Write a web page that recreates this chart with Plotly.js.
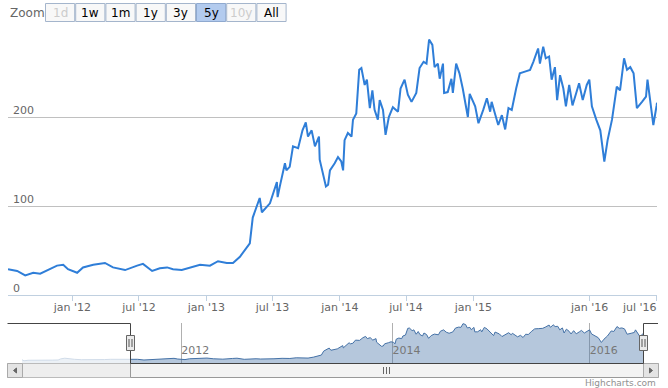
<!DOCTYPE html>
<html>
<head>
<meta charset="utf-8">
<script src="https://cdn.plot.ly/plotly-3.0.1.min.js"></script>
<style>
html,body{margin:0;padding:0;background:#fff;overflow:hidden}
#chart{width:668px;height:388px}
</style>
</head>
<body>
<div id="chart"></div>
<script>
// ---------- data ----------
const dates = [
'2011-07-09','2011-08-03','2011-08-25','2011-09-16','2011-10-05','2011-10-24','2011-11-20','2011-12-07','2011-12-20',
'2012-01-14','2012-01-30','2012-02-27','2012-03-30','2012-04-21','2012-05-24','2012-06-26','2012-07-12','2012-08-06',
'2012-08-27','2012-09-16','2012-10-02','2012-10-26','2012-11-17','2012-12-15',
'2013-01-11','2013-02-02','2013-02-26','2013-03-15','2013-04-03','2013-04-30','2013-05-08','2013-05-27','2013-06-02',
'2013-06-24','2013-07-13','2013-07-15','2013-07-21','2013-08-04','2013-08-08','2013-08-17','2013-08-26','2013-09-09',
'2013-09-21','2013-09-30','2013-10-06','2013-10-16','2013-10-25','2013-11-05','2013-11-07','2013-11-16','2013-11-24',
'2013-11-30','2013-12-05','2013-12-18','2013-12-27',
'2014-01-05','2014-01-10','2014-01-14','2014-01-23','2014-02-02','2014-02-06','2014-02-15','2014-02-23','2014-03-01',
'2014-03-10','2014-03-16','2014-03-24','2014-03-31','2014-04-06','2014-04-15','2014-04-20','2014-04-29','2014-05-06',
'2014-05-15','2014-05-26','2014-06-09','2014-06-16','2014-06-27','2014-07-06','2014-07-16','2014-07-29','2014-08-07',
'2014-08-18','2014-08-26','2014-09-02','2014-09-11','2014-09-17','2014-09-26','2014-10-01','2014-10-10','2014-10-13',
'2014-10-23','2014-11-02','2014-11-06','2014-11-15','2014-11-24','2014-12-03','2014-12-17','2014-12-22',
'2015-01-06','2015-01-15','2015-01-28','2015-02-07','2015-02-16','2015-02-20','2015-03-01','2015-03-10','2015-03-20',
'2015-03-29','2015-04-07','2015-04-16','2015-04-28','2015-05-08','2015-05-22','2015-06-05',
'2015-07-31','2015-08-13','2015-08-18','2015-08-27','2015-09-03','2015-09-12','2015-09-19','2015-09-28','2015-10-04',
'2015-10-12','2015-10-21','2015-10-28','2015-11-06','2015-11-15','2015-11-26','2015-12-03','2015-12-13','2015-12-24',
'2015-12-31',
'2016-01-07','2016-01-19','2016-01-30','2016-02-10','2016-02-19','2016-03-02','2016-03-15','2016-03-24','2016-04-04',
'2016-04-12','2016-04-21','2016-04-30','2016-05-09','2016-05-23','2016-06-03','2016-06-07','2016-06-14','2016-06-23',
'2016-07-02','2016-07-03'
];
const prices = [
29,27,22,25,24,28,33,34,29,
25,31,34,36,31,28,33,35,27,
30,31,29,28,31,34,
33,38,36,36,43,58,87,109,93,
103,127,110,122,148,140,144,167,165,
185,194,178,185,167,178,152,137,122,
124,140,148,155,
150,140,174,182,178,197,204,253,255,
236,242,210,230,208,197,219,208,180,
200,211,206,232,242,225,217,227,255,
262,260,287,281,256,260,243,260,227,
228,243,227,260,249,232,200,226,
212,193,208,221,206,217,204,191,202,
186,210,208,232,249,251,253,
262,277,260,279,266,268,242,256,219,
247,232,212,236,213,228,238,219,236,
242,
212,197,185,150,174,197,234,230,266,
253,256,249,210,217,223,242,217,191,
213,216
];
// earlier history only visible in the navigator (estimated)
const earlyDates = ['2010-06-29','2010-07-06','2010-07-20','2010-08-10','2010-09-01','2010-09-21','2010-10-12','2010-11-01',
'2010-11-10','2010-11-24','2010-12-10','2010-12-28','2011-01-20','2011-02-10','2011-03-01','2011-03-20','2011-04-10',
'2011-05-01','2011-05-20','2011-06-10','2011-06-30'];
const earlyPrices = [24,16,20,19,20,21,21,22,30,35,30,27,24,23,24,24,25,27,27,28,28];

const gapBounds = ['2015-06-10','2015-07-27'];
const viewStart = '2011-07-09', viewEnd = '2016-07-03', navStart = '2010-06-29';
const mainTickVals = ['2012-01-01','2012-07-01','2013-01-01','2013-07-01','2014-01-01','2014-07-01','2015-01-01','2016-01-01','2016-07-01'];
const mainTickText = ["jan '12","jul '12","jan '13","jul '13","jan '14","jul '14","jan '15","jan '16",""];
const lastTickLabel = "jul '16";
const yTickVals = [0,100,200,300];
const yTickText = ['0','100','200',''];
const navTickVals = ['2012-01-01','2014-01-01','2016-01-01'];
const navTickText = ['2012','2014','2016'];
const buttons = ['1d','1w','1m','1y','3y','5y','10y','All'];
const disabledButtons = ['1d','10y'];
const selectedButton = '5y';

// ---------- geometry helpers (figure pixels -> paper fractions) ----------
const W = 668, H = 388;
const px = x => x / W;
const py = y => 1 - y / H;
const FONT = 'DejaVu Sans, Verdana, sans-serif';

const navTrace = {
  x: earlyDates.concat(dates), y: earlyPrices.concat(prices),
  xaxis: 'x2', yaxis: 'y2', type: 'scatter', mode: 'lines',
  line: {color: '#4572A7', width: 1}, fill: 'tozeroy', fillcolor: 'rgba(69,114,167,0.4)',
  hoverinfo: 'skip'
};
const mainTrace = {
  x: dates, y: prices, xaxis: 'x', yaxis: 'y', type: 'scatter', mode: 'lines',
  line: {color: '#2f7ed8', width: 2}, hoverinfo: 'skip'
};

const shapes = [];
const annotations = [];
function rect(x0, y0, x1, y1, fill, line, lw) {
  shapes.push({type: 'rect', xref: 'paper', yref: 'paper', x0: px(x0), x1: px(x1), y0: py(y1), y1: py(y0),
    fillcolor: fill, line: {color: line || 'rgba(0,0,0,0)', width: lw === undefined ? 1 : lw}, layer: 'above'});
}
function path(pts, color, fill, closed) {
  let d = pts.map((p, i) => (i ? 'L ' : 'M ') + px(p[0]) + ',' + py(p[1])).join(' ') + (closed ? ' Z' : '');
  shapes.push({type: 'path', xref: 'paper', yref: 'paper', path: d, fillcolor: fill || 'rgba(0,0,0,0)',
    line: {color: color, width: 1}, layer: 'above'});
}

// navigator mask on unselected part
rect(22, 323, 130, 363, 'rgba(255,255,255,0.75)', null, 0);
// scrollbar
rect(7.5, 363.5, 658.5, 377.5, '#eeeeee', '#bbbbbb', 1);
rect(130.5, 363.5, 643.5, 377.5, '#f3f3f3', '#999999', 1);
[383.5, 386.5, 389.5].forEach(x => path([[x, 367], [x, 374]], '#666666'));
rect(7.5, 363.5, 22.5, 377.5, '#e4e4e4', '#aaaaaa', 1);
rect(643.5, 363.5, 658.5, 377.5, '#e4e4e4', '#aaaaaa', 1);
path([[13.5, 370.5], [16.5, 368], [16.5, 373]], '#666666', '#666666', true);
path([[652.5, 370.5], [649.5, 368], [649.5, 373]], '#666666', '#666666', true);
// navigator outline
path([[7.5, 323.5], [130.5, 323.5], [130.5, 363.5], [643.5, 363.5], [643.5, 323.5], [658, 323.5]], '#444444');
// handles
[130.5, 643.5].forEach(cx => {
  rect(cx - 4, 335.5, cx + 4, 350.5, '#ebebeb', '#666666', 1);
  path([[cx - 1.5, 339], [cx - 1.5, 347]], '#555555');
  path([[cx + 1.5, 339], [cx + 1.5, 347]], '#555555');
});

// range selector
annotations.push({text: 'Zoom', xref: 'paper', yref: 'paper', x: px(8), y: py(13), xanchor: 'left', yanchor: 'middle',
  showarrow: false, font: {family: FONT, size: 12, color: '#666666'}});
buttons.forEach((b, i) => {
  const x0 = 45.5 + i * 30.2, x1 = x0 + 29.2;
  const sel = b === selectedButton, dis = disabledButtons.includes(b);
  rect(x0, 3.5, x1, 21.5, sel ? '#b3cbee' : '#f8f8f8', sel ? '#8fa9cf' : '#a4b5cc', 1);
  annotations.push({text: b, xref: 'paper', yref: 'paper', x: px((x0 + x1) / 2), y: py(12.8), xanchor: 'center', yanchor: 'middle',
    showarrow: false, font: {family: FONT, size: 12, color: dis ? '#cccccc' : '#000000'}});
});

// last (justified) x tick label
annotations.push({text: lastTickLabel, xref: 'paper', yref: 'paper', x: px(639), y: py(307.5), xanchor: 'center', yanchor: 'middle',
  showarrow: false, font: {family: FONT, size: 11, color: '#666666'}});
// credits
annotations.push({text: 'Highcharts.com', xref: 'paper', yref: 'paper', x: px(658), y: py(383), xanchor: 'right', yanchor: 'middle',
  showarrow: false, font: {family: FONT, size: 9, color: '#909090'}});

const layout = {
  width: W, height: H, margin: {l: 0, r: 0, t: 0, b: 0, pad: 0},
  paper_bgcolor: '#ffffff', plot_bgcolor: 'rgba(0,0,0,0)', showlegend: false,
  font: {family: FONT, size: 11, color: '#666666'},
  xaxis: {
    domain: [px(8), px(657)], type: 'date', range: [viewStart, viewEnd], rangebreaks: [{bounds: gapBounds}],
    tickmode: 'array', tickvals: mainTickVals, ticktext: mainTickText,
    ticks: 'outside', ticklen: 5, tickwidth: 1, tickcolor: '#C0D0E0',
    showline: true, linecolor: '#C0D0E0', linewidth: 1, showgrid: false, zeroline: false,
    ticklabelstandoff: -3,
    tickfont: {family: FONT, size: 11, color: '#666666'}, anchor: 'y', automargin: false, fixedrange: true
  },
  yaxis: {
    domain: [py(295), py(28)], range: [0, 300], tickmode: 'array', tickvals: yTickVals, ticktext: yTickText,
    showgrid: true, gridcolor: '#C0C0C0', gridwidth: 1, zeroline: false, showline: false, ticks: '',
    ticklabelposition: 'inside', ticklabelshift: -7, ticklabelstandoff: 2,
    tickfont: {family: FONT, size: 11, color: '#666666'}, anchor: 'x', automargin: false, fixedrange: true
  },
  xaxis2: {
    domain: [px(22), px(643)], type: 'date', range: [navStart, viewEnd], rangebreaks: [{bounds: gapBounds}],
    tickmode: 'array', tickvals: navTickVals, ticktext: navTickText,
    showgrid: true, gridcolor: '#B0B0B0', gridwidth: 1, zeroline: false, showline: false, ticks: '',
    ticklabelposition: 'inside right', ticklabelstandoff: 1,
    tickfont: {family: FONT, size: 11, color: '#777777'}, anchor: 'y2', automargin: false, fixedrange: true
  },
  yaxis2: {
    domain: [py(363), py(323)], range: [0, 292], visible: false, showgrid: false, zeroline: false,
    anchor: 'x2', fixedrange: true
  },
  shapes: shapes,
  annotations: annotations
};

Plotly.newPlot('chart', [navTrace, mainTrace], layout, {staticPlot: true, displayModeBar: false});
</script>
</body>
</html>
